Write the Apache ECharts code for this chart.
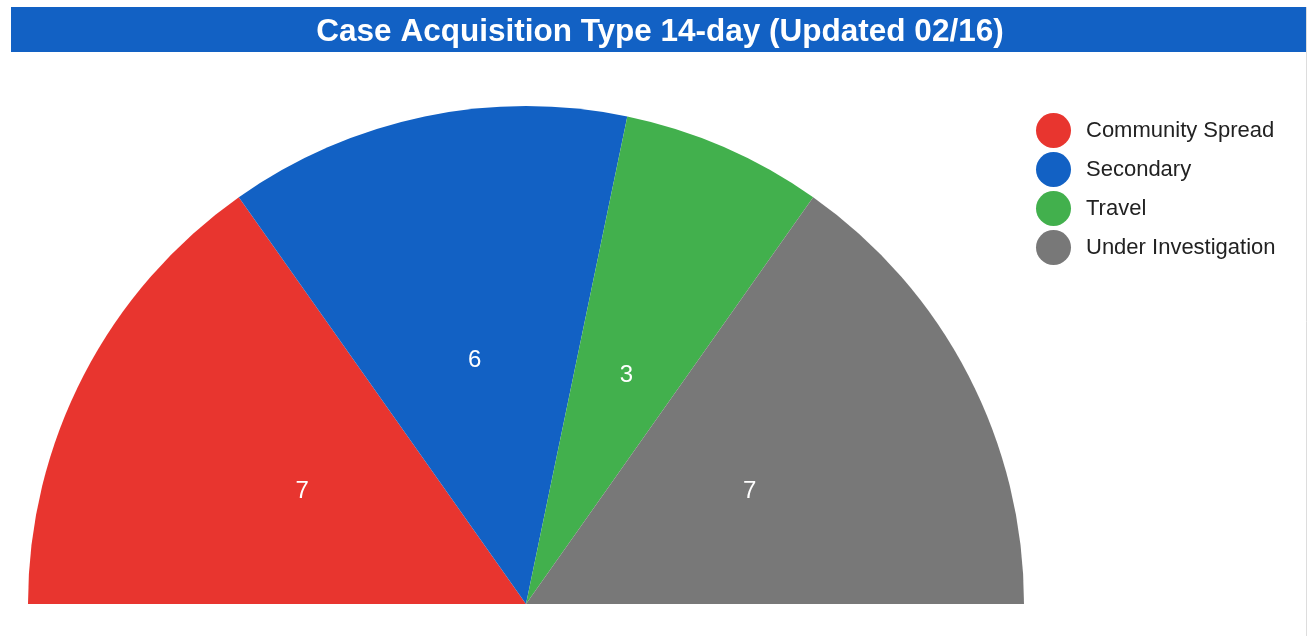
<!DOCTYPE html>
<html><head><meta charset="utf-8">
<script src="https://cdn.jsdelivr.net/npm/echarts@6/dist/echarts.min.js"></script>
<style>html,body{margin:0;padding:0;background:#fff}#c{width:1308px;height:636px}</style>
</head><body><div id="c"></div>
<script>
const categories = ['Community Spread', 'Secondary', 'Travel', 'Under Investigation'];
const values = [7, 6, 3, 7];
const colors = ['#E8352F', '#1261C4', '#42B04D', '#787878'];
const titleText = 'Case Acquisition Type 14-day (Updated 02/16)';

const chart = echarts.init(document.getElementById('c'), null, {renderer: 'canvas'});
chart.setOption({
  animation: false,
  backgroundColor: '#fff',
  graphic: [
    {type: 'rect', shape: {x: 11, y: 7, width: 1295, height: 45}, style: {fill: '#1261C4'}, z: 0},
    {type: 'line', shape: {x1: 1306.5, y1: 7, x2: 1306.5, y2: 636}, style: {stroke: '#dddddd', lineWidth: 1}}
  ],
  title: {
    text: titleText, left: 655, top: 11, textAlign: 'center',
    textStyle: {color: '#fff', fontFamily: 'Liberation Sans, Arial, sans-serif', fontWeight: 'bold', fontSize: 31.5}
  },
  legend: {
    orient: 'vertical', left: 1036, top: 113, padding: 0, icon: 'circle', itemWidth: 35, itemHeight: 35, itemGap: 4,
    textStyle: {color: '#222', fontFamily: 'Liberation Sans, Arial, sans-serif', fontSize: 22, padding: [0, 0, 0, 10]},
    data: categories
  },
  series: [{
    type: 'pie', center: [526, 604], radius: [0, 498], startAngle: 180, endAngle: 0, clockwise: true,
    label: {show: true, position: 'inside', color: '#fff', fontSize: 24, offset: [0, 3], fontFamily: 'Liberation Sans, Arial, sans-serif', formatter: '{c}'},
    labelLine: {show: false},
    itemStyle: {borderWidth: 0},
    emphasis: {disabled: true},
    data: categories.map((n, i) => ({name: n, value: values[i], itemStyle: {color: colors[i]}}))
  }]
});
</script></body></html>
